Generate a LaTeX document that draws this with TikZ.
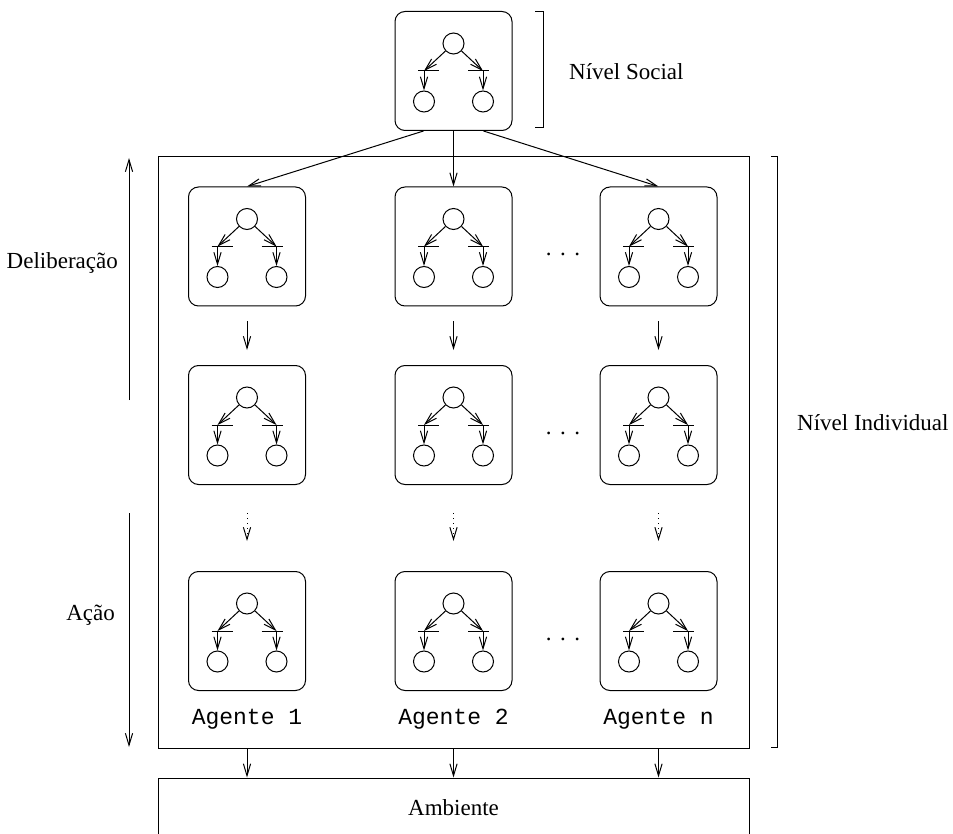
\documentclass[tikz,border=0pt]{standalone}
\usepackage{fontspec}
\setmainfont{Liberation Serif}
\setmonofont{Liberation Mono}
\usetikzlibrary{arrows.meta}

\newcommand{\pontos}{.\hspace{4.2pt}.\hspace{4.2pt}.}

\tikzset{
  caixa/.style={draw, rounded corners=5pt, minimum width=58.5pt, minimum height=59.5pt, inner sep=0pt},
  bola/.style={draw, circle, minimum size=10.5pt, inner sep=0pt},
  seta/.style={-{Straight Barb[length=6pt,width=3.6pt]}},
  pics/arvore/.style={code={
    \node[bola] (-t) at (0,-27.5) {};
    \node[bola] (-e) at (-29.5,30.5) {};
    \node[bola] (-d) at (29.5,30.5) {};
    \coordinate (-be) at (-29.5,0);
    \coordinate (-bd) at (29.5,0);
    \draw (-35.5,0) -- (-14.5,0);
    \draw (14.5,0) -- (35.5,0);
    \draw[seta] (-t) -- (-be);
    \draw[seta] (-be) -- (-e);
    \draw[seta] (-t) -- (-bd);
    \draw[seta] (-bd) -- (-d);
  }}
}

\begin{document}
\begin{tikzpicture}[x=0.5pt, y=-0.5pt, line width=0.5pt, font=\fontsize{11.5}{14}\selectfont]
  \useasboundingbox (0,0) rectangle (953,834);
  \clip (0,0) rectangle (953,834);

  % nivel social
  \node[caixa] (social) at (453.5,71) {};
  \pic (s) at (453.5,71) {arvore};
  \draw (535,12) -- (543,12) -- (543,128) -- (535,128);
  \node[anchor=west] (nsocial) at (562,72) {Nível Social};

  % nivel individual
  \node[draw, minimum width=295.5pt, minimum height=295.5pt, inner sep=0pt] (individual) at (453.5,452.5) {};
  \draw (771,157) -- (777,157) -- (777,747) -- (771,747);
  \node[anchor=west] (nindividual) at (790,423) {Nível Individual};

  \node[draw, minimum width=295.5pt, minimum height=30pt, inner sep=0pt] (ambiente) at (453.5,808) {Ambiente};

  % agentes
  \foreach \ag/\x in {1/247,2/453.5,n/658.5} {
    \foreach \lin/\y in {a/246.5,b/425,c/631} {
      \node[caixa] (\lin\ag) at (\x,\y) {};
      \pic (\lin\ag) at (\x,\y) {arvore};
    }
    \draw[seta] ([yshift=-7.5pt]a\ag.south) -- ([yshift=7.5pt]b\ag.north);
    \draw[seta, dotted] ([yshift=-14pt]b\ag.south) -- ([yshift=15pt]c\ag.north);
    \node[font=\ttfamily\fontsize{11.5}{14}\selectfont] (nome\ag) at ([yshift=-14pt]c\ag.south) {Agente \ag};
    \draw[seta] (individual.south -| a\ag) -- (ambiente.north -| a\ag);
  }
  \node (pa) at (563,254) {\pontos};
  \node (pb) at (563,433) {\pontos};
  \node (pc) at (563,639) {\pontos};

  \draw[seta] ([xshift=-15pt]social.south) -- (a1.north);
  \draw[seta] (social) -- (a2);
  \draw[seta] ([xshift=15pt]social.south) -- (an.north);

  % deliberacao e acao
  \coordinate (dbase) at (129,400);
  \coordinate (dtopo) at (129,158);
  \draw[seta] (dbase) -- (dtopo);
  \node[anchor=east] (delib) at (125,263) {Deliberação};
  \coordinate (atopo) at (129,513);
  \coordinate (abase) at (129,747);
  \draw[seta] (atopo) -- (abase);
  \node[anchor=east] (acao) at (122,615) {Ação};
\end{tikzpicture}
\end{document}
